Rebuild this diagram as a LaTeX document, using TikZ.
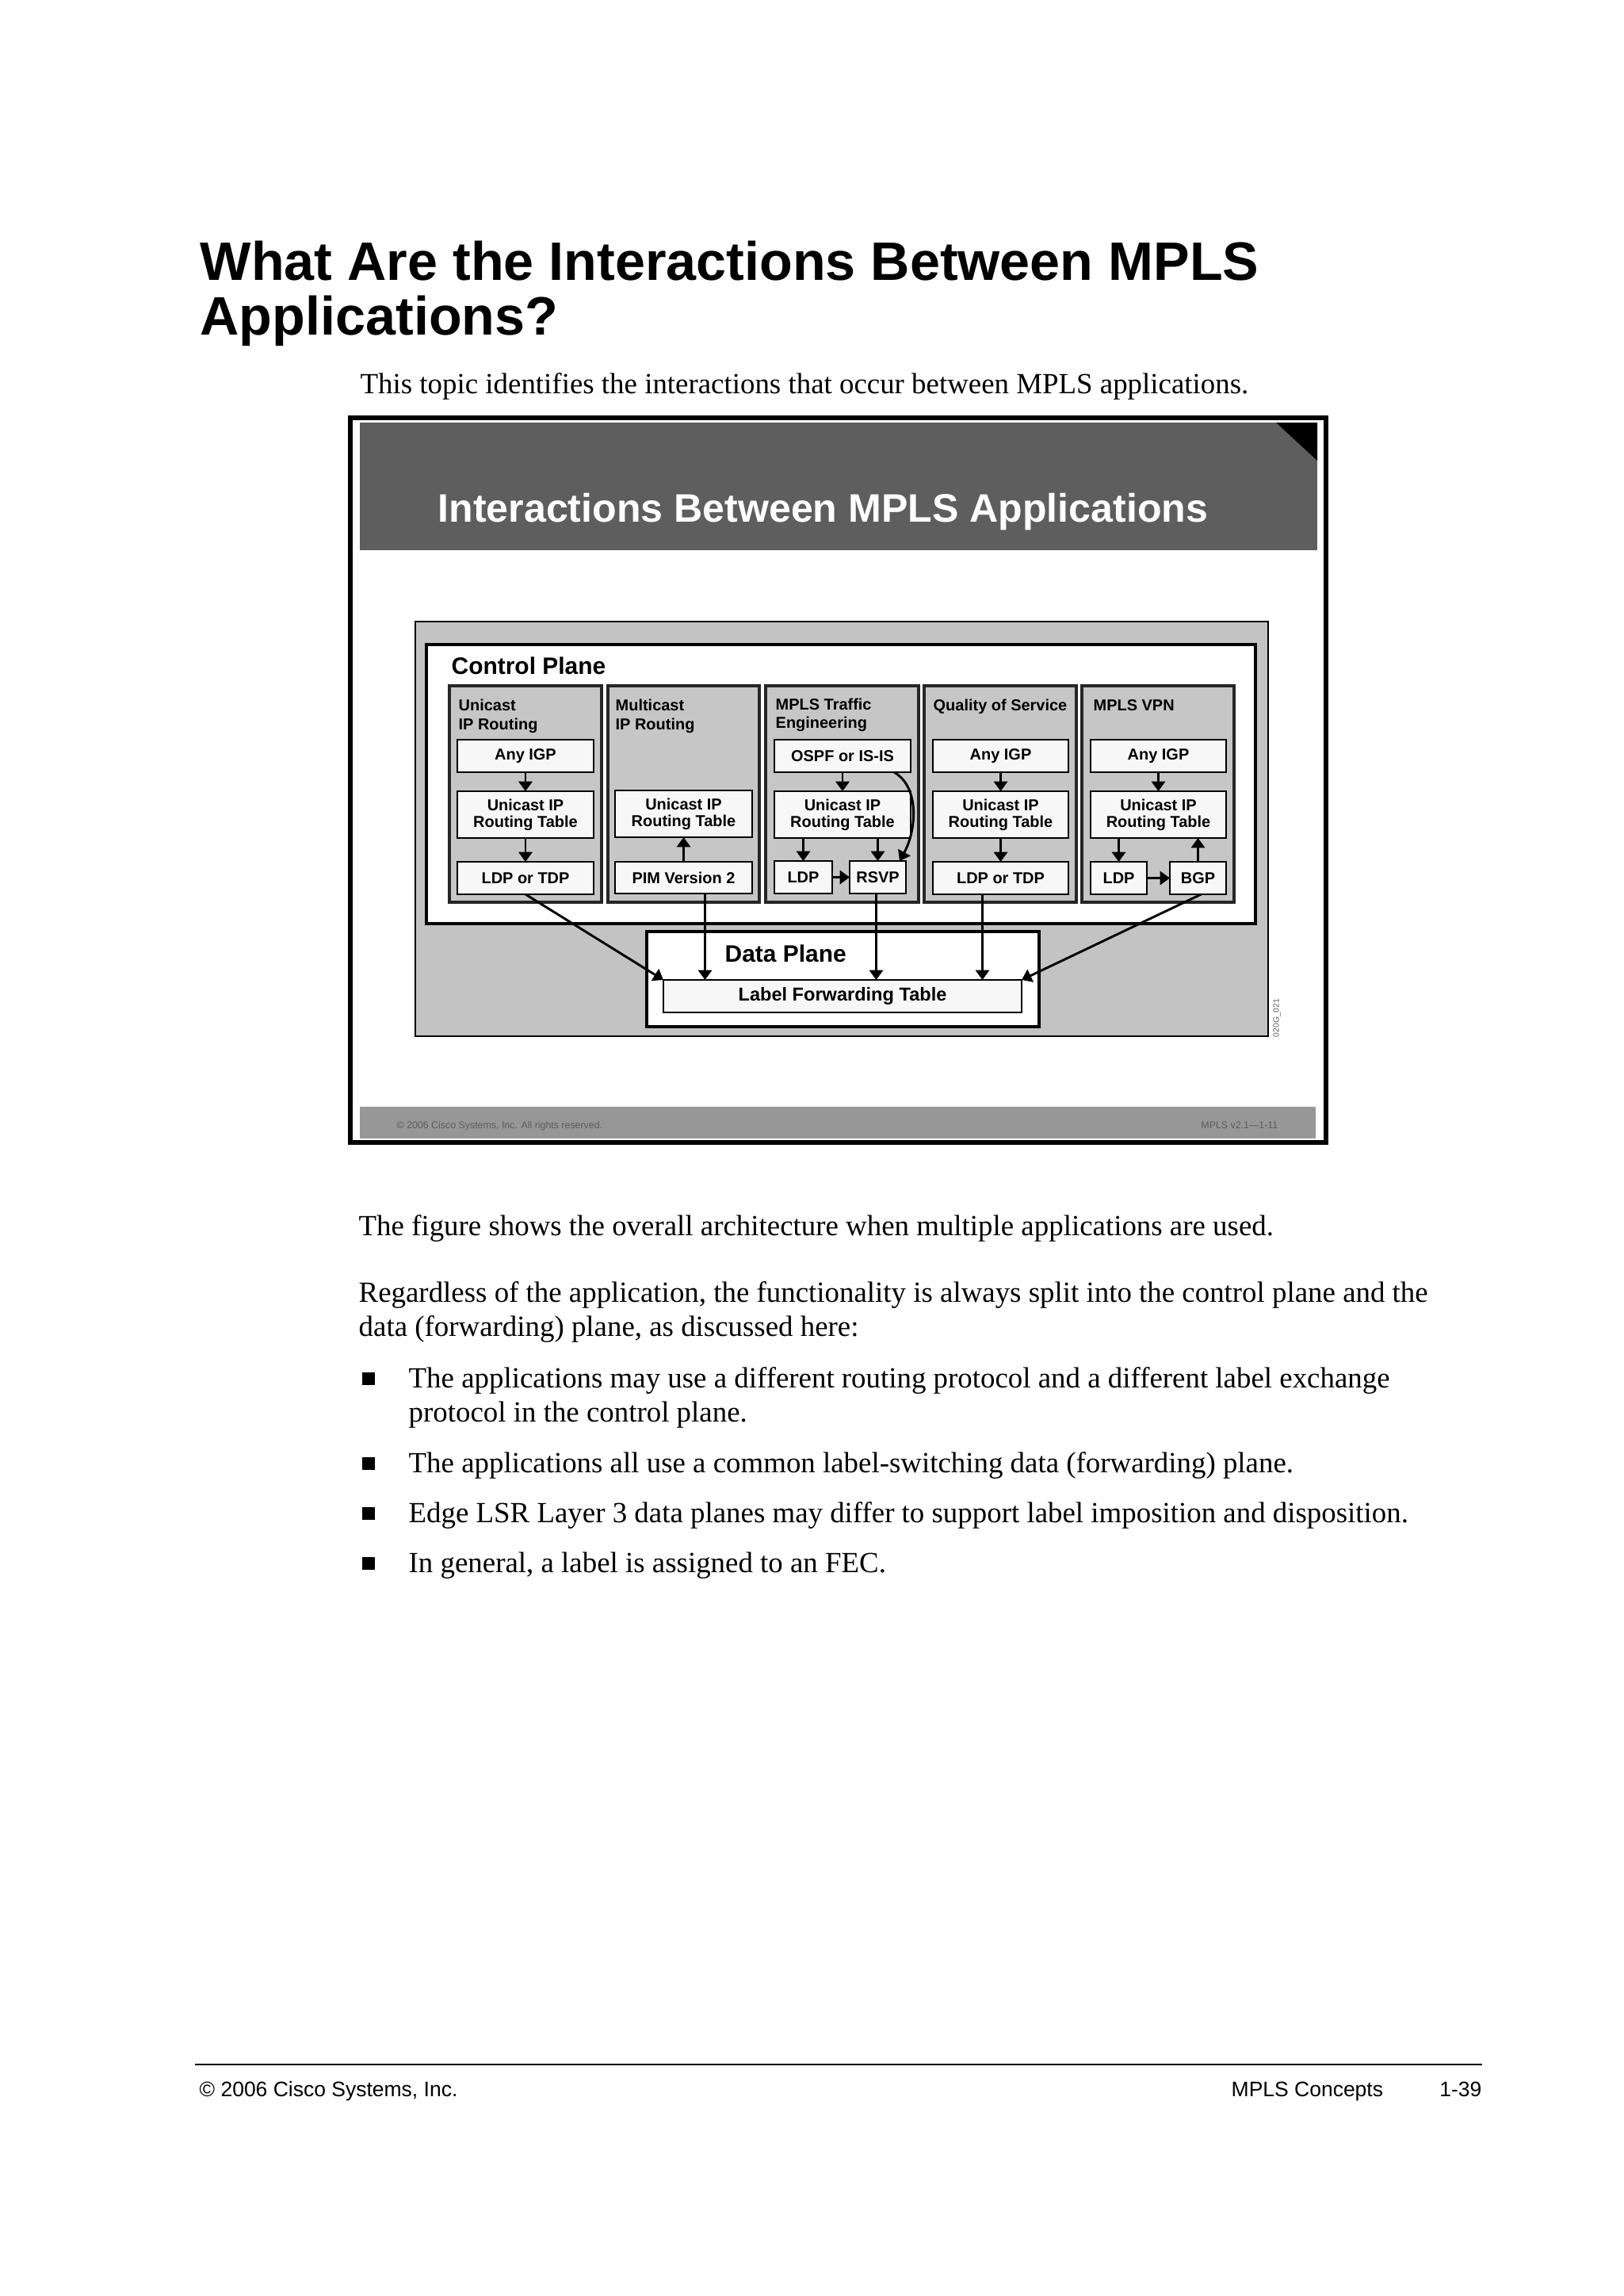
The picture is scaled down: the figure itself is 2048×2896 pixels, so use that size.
\documentclass[tikz,border=0pt]{standalone}
\usepackage{fontspec}
\setmainfont{Liberation Serif}
\setsansfont{Liberation Sans}
\usetikzlibrary{arrows.meta,calc}
\definecolor{hdr}{HTML}{5E5E5E}
\definecolor{ftr}{HTML}{979797}
\definecolor{ftxt}{HTML}{5C5C5C}
\definecolor{panel}{HTML}{C3C3C3}
\definecolor{colfill}{HTML}{C6C6C6}
\definecolor{boxfill}{HTML}{F7F7F7}
% name, x1, y1, x2, y2, style, text  (pixel coordinates)
\newcommand\pxbox[7]{%
  \pgfmathsetmacro\pxw{(#4-#2)*0.29066}%
  \pgfmathsetmacro\pxh{(#5-#3)*0.29066}%
  \node[#6,minimum width=\pxw pt,minimum height=\pxh pt,inner sep=0pt,outer sep=0pt] (#1) at ({(#2+#4)/2},{(#3+#5)/2}) {#7};%
}
\tikzset{
  heading/.style={anchor=base west,inner sep=0pt,font=\sffamily\bfseries\fontsize{19.85}{23}\selectfont},
  bodytext/.style={anchor=base west,inner sep=0pt,font=\rmfamily\fontsize{10.72}{12.5}\selectfont},
  pagefoot/.style={anchor=base west,inner sep=0pt,font=\sffamily\fontsize{7.7}{9}\selectfont},
  slidetitle/.style={anchor=base west,inner sep=0pt,text=white,font=\sffamily\bfseries\fontsize{14.56}{17}\selectfont},
  slidefoot/.style={inner sep=0pt,text=ftxt,font=\sffamily\fontsize{3.6}{4}\selectfont},
  coltitle/.style={anchor=base west,inner sep=0pt,font=\sffamily\bfseries\fontsize{5.8}{7}\selectfont},
  planetitle/.style={anchor=base west,inner sep=0pt,font=\sffamily\bfseries\fontsize{8.7}{10}\selectfont},
  appbox/.style={draw=black,line width=0.85pt,fill=boxfill,align=center,font=\sffamily\bfseries\fontsize{5.8}{6.1}\selectfont},
  colbox/.style={draw=black!85,line width=1.1pt,fill=colfill},
  arr/.style={line width=0.85pt,-{Triangle[length=3.6pt,width=5pt]}},
  bulletsq/.style={fill=black}
}
\begin{document}
\begin{tikzpicture}[x=0.29066pt,y=-0.29066pt]
\path[use as bounding box,fill=white] (0,0) rectangle (2048,2896);

% ---------- page heading ----------
\node[heading] (h1) at (252,353) {What Are the Interactions Between MPLS};
\node[heading] (h2) at (252,422) {Applications?};
\node[bodytext] (intro) at (454,496) {This topic identifies the interactions that occur between MPLS applications.};

% ---------- slide frame ----------
\pxbox{slide}{442}{527}{1673}{1441}{draw=black,line width=1.75pt,fill=white}{}
\pxbox{hdrband}{454}{533}{1662}{694}{fill=hdr}{}
\fill[black] (1610,533) -- (1662,533) -- (1662,581) -- cycle;
\node[slidetitle] (stitle) at (552,658) {Interactions Between MPLS Applications};
\pxbox{ftrband}{454}{1396}{1660}{1436}{fill=ftr}{}
\node[slidefoot,anchor=base west] (scopy) at (500,1423) {\textcopyright\ 2006 Cisco Systems, Inc. All rights reserved.};
\node[slidefoot,anchor=base east] (sver) at (1613,1423) {MPLS v2.1—1-11};

% ---------- diagram ----------
\pxbox{panel}{524}{784}{1600}{1307}{draw=black,line width=0.85pt,fill=panel}{}
\pxbox{cplane}{538}{813}{1584}{1165}{draw=black,line width=1.1pt,fill=white}{}
\node[planetitle] (cptitle) at (569,850) {Control Plane};
\node[rotate=90,inner sep=0pt,text=ftxt,font=\sffamily\fontsize{3}{3}\selectfont] (figid) at (1611,1284) {020G\_021};

% columns
\pxbox{col1}{567}{865}{759}{1138}{colbox}{}
\pxbox{col2}{767}{865}{958}{1138}{colbox}{}
\pxbox{col3}{966}{865}{1159}{1138}{colbox}{}
\pxbox{col4}{1166}{865}{1358}{1138}{colbox}{}
\pxbox{col5}{1365}{865}{1557}{1138}{colbox}{}

\node[coltitle] (t1a) at (578,896) {Unicast};
\node[coltitle] (t1b) at (578,920) {IP Routing};
\node[coltitle] (t2a) at (776,896) {Multicast};
\node[coltitle] (t2b) at (776,920) {IP Routing};
\node[coltitle] (t3a) at (978,895) {MPLS Traffic};
\node[coltitle] (t3b) at (978,918) {Engineering};
\node[coltitle] (t4a) at (1177,896) {Quality of Service};
\node[coltitle] (t5a) at (1379,896) {MPLS VPN};

% column 1
\pxbox{igp1}{577}{933}{749}{974}{appbox}{Any IGP}
\pxbox{rt1}{577}{998}{749}{1057}{appbox}{Unicast IP\\Routing Table}
\pxbox{ldp1}{577}{1087}{749}{1128}{appbox}{LDP or TDP}
% column 2
\pxbox{rt2}{776}{997}{949}{1056}{appbox}{Unicast IP\\Routing Table}
\pxbox{pim}{776}{1087}{949}{1127}{appbox}{PIM Version 2}
% column 3
\pxbox{ospf}{977}{933}{1149}{974}{appbox}{OSPF or IS-IS}
\pxbox{rt3}{977}{998}{1149}{1057}{appbox}{Unicast IP\\Routing Table}
\pxbox{ldp3}{977}{1086}{1050}{1127}{appbox}{LDP}
\pxbox{rsvp}{1072}{1086}{1143}{1127}{appbox}{RSVP}
% column 4
\pxbox{igp4}{1177}{933}{1348}{974}{appbox}{Any IGP}
\pxbox{rt4}{1177}{998}{1348}{1057}{appbox}{Unicast IP\\Routing Table}
\pxbox{ldp4}{1177}{1087}{1348}{1128}{appbox}{LDP or TDP}
% column 5
\pxbox{igp5}{1376}{933}{1547}{974}{appbox}{Any IGP}
\pxbox{rt5}{1376}{998}{1547}{1057}{appbox}{Unicast IP\\Routing Table}
\pxbox{ldp5}{1376}{1087}{1447}{1128}{appbox}{LDP}
\pxbox{bgp}{1476}{1087}{1547}{1128}{appbox}{BGP}

% arrows inside columns
\draw[arr] (igp1.south) -- (rt1.north);
\draw[arr] (rt1.south) -- (ldp1.north);
\draw[arr] (pim.north) -- (rt2.south);
\draw[arr] (ospf.south) -- (rt3.north);
\draw[arr] (ldp3.north |- rt3.south) -- (ldp3.north);
\draw[arr] (rsvp.north |- rt3.south) -- (rsvp.north);
\draw[arr] (ldp3.east) -- (rsvp.west);
\draw[arr] ($(ospf.south east)+(-21,0)$) .. controls +(32,18) and +(22,-40) .. ($(rsvp.north east)+(-8,0)$);
\draw[arr] (igp4.south) -- (rt4.north);
\draw[arr] (rt4.south) -- (ldp4.north);
\draw[arr] (igp5.south) -- (rt5.north);
\draw[arr] (ldp5.north |- rt5.south) -- (ldp5.north);
\draw[arr] (bgp.north) -- (bgp.north |- rt5.south);
\draw[arr] (ldp5.east) -- (bgp.west);

% data plane
\pxbox{dplane}{816}{1175}{1311}{1295}{draw=black,line width=1.1pt,fill=white}{}
\node[planetitle] (dptitle) at (914,1213) {Data Plane};
\pxbox{lft}{837}{1236}{1289}{1277}{draw=black,line width=0.75pt,fill=boxfill,font=\sffamily\bfseries\fontsize{6.85}{8}\selectfont}{Label Forwarding Table}

% arrows to the data plane
\draw[arr] (ldp1.south) -- (lft.north west);
\draw[arr] ($(pim.south)+(27,0)$) coordinate (pimout) -- (pimout |- lft.north);
\draw[arr] ($(rsvp.south)+(-2,0)$) coordinate (rsvpout) -- (rsvpout |- lft.north);
\draw[arr] ($(ldp4.south)+(-23,0)$) coordinate (ldp4out) -- (ldp4out |- lft.north);
\draw[arr] ($(bgp.south)+(4,0)$) -- (lft.north east);

% ---------- body text ----------
\node[bodytext] (p1) at (452,1558) {The figure shows the overall architecture when multiple applications are used.};
\node[bodytext] (p2a) at (452,1642) {Regardless of the application, the functionality is always split into the control plane and the};
\node[bodytext] (p2b) at (452,1685) {data (forwarding) plane, as discussed here:};

\fill[bulletsq] (457,1731) rectangle (473,1747);
\node[bodytext] (b1a) at (515,1750) {The applications may use a different routing protocol and a different label exchange};
\node[bodytext] (b1b) at (515,1793) {protocol in the control plane.};
\fill[bulletsq] (457,1838) rectangle (473,1854);
\node[bodytext] (b2) at (515,1857) {The applications all use a common label-switching data (forwarding) plane.};
\fill[bulletsq] (457,1901) rectangle (473,1917);
\node[bodytext] (b3) at (515,1920) {Edge LSR Layer 3 data planes may differ to support label imposition and disposition.};
\fill[bulletsq] (457,1964) rectangle (473,1980);
\node[bodytext] (b4) at (515,1983) {In general, a label is assigned to an FEC.};

% ---------- page footer ----------
\draw[line width=0.85pt] (246,2604) coordinate (rulel) -- (1870,2604) coordinate (ruler);
\node[pagefoot] (copy) at (251,2644) {\textcopyright\ 2006 Cisco Systems, Inc.};
\node[pagefoot] (chap) at (1553,2644) {MPLS Concepts};
\node[pagefoot,anchor=base east] (pg) at (1870,2644) {1-39};
\end{tikzpicture}
\end{document}
